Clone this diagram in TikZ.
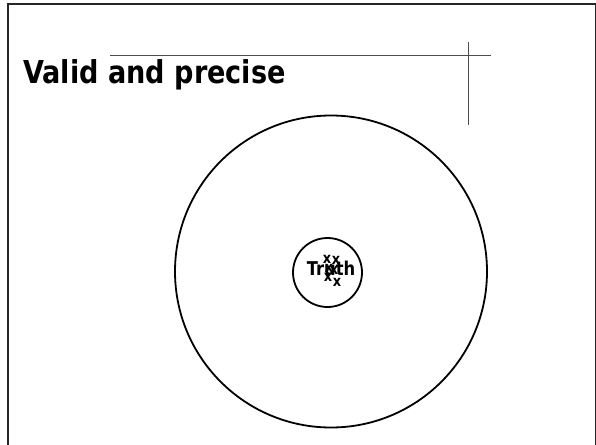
\documentclass[tikz,border=0pt]{standalone}
\usepackage{fontspec}
\setmainfont[FakeStretch=0.86]{DejaVu Sans}
\usetikzlibrary{positioning}

\begin{document}
\begin{tikzpicture}[
  x=1pt, y=-1pt,
  frame/.style={line width=2pt, black!85},
  guide/.style={line width=1pt, black!70},
  ring/.style={draw, circle, line width=1.8pt, inner sep=0pt},
  title/.style={font=\fontsize{31.5}{34}\selectfont\bfseries, inner sep=0pt, anchor=base west},
  lab/.style={font=\fontsize{19}{20}\selectfont\bfseries, inner sep=0pt},
  hit/.style={font=\fontsize{15}{15}\selectfont\bfseries, inner sep=0pt},
]
\useasboundingbox (0,0) rectangle (596,444);

% ---- slide frame and corner guides
\draw[frame] (7.5,450) -- (7.5,4.5) -- (595.5,4.5) -- (595.5,450);
\coordinate (hl) at (110,55);
\coordinate (hr) at (491,55);
\coordinate (vt) at (468,42);
\coordinate (vb) at (468,125);
\draw[guide] (hl) -- (hr);
\draw[guide] (vt) -- (vb);

% ---- title
\node[title] (head) at (23,83) {Valid and precise};

% ---- target
\node[ring, minimum size=312pt] (outer) at (331,271.5) {};
\node[ring, minimum size=69pt] (inner) at (327.5,272.5) {};
\node[lab] (truth) at (331,268) {Truth};

% ---- shots, all close together
\foreach \px/\py [count=\i] in {327/259, 336/260, 329/268, 334/270, 328/277, 337/282}
  \node[hit] (x\i) at (\px,\py) {x};
\end{tikzpicture}
\end{document}
